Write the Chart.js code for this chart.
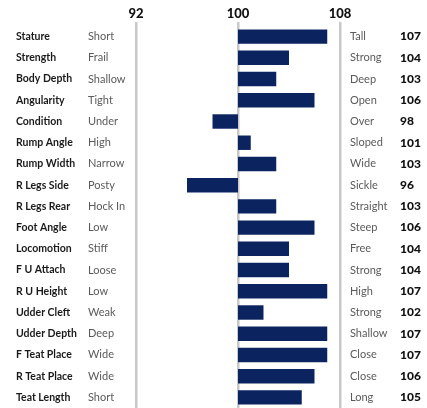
<!DOCTYPE html>
<html>
<head>
<meta charset="utf-8">
<script src="https://cdn.jsdelivr.net/npm/chart.js@4.4.1/dist/chart.umd.min.js"></script>
<style>
  html, body { margin: 0; padding: 0; background: #fff; }
  #wrap { width: 427px; height: 408px; position: relative; }
</style>
</head>
<body>
<div id="wrap"><canvas id="traitChart"></canvas></div>
<script>
// linear type traits, bars run from the 100 base
const traits = ['Stature', 'Strength', 'Body Depth', 'Angularity', 'Condition', 'Rump Angle',
    'Rump Width', 'R Legs Side', 'R Legs Rear', 'Foot Angle', 'Locomotion', 'F U Attach',
    'R U Height', 'Udder Cleft', 'Udder Depth', 'F Teat Place', 'R Teat Place', 'Teat Length'];
const lowLabels = ['Short', 'Frail', 'Shallow', 'Tight', 'Under', 'High', 'Narrow', 'Posty',
    'Hock In', 'Low', 'Stiff', 'Loose', 'Low', 'Weak', 'Deep', 'Wide', 'Wide', 'Short'];
const highLabels = ['Tall', 'Strong', 'Deep', 'Open', 'Over', 'Sloped', 'Wide', 'Sickle',
    'Straight', 'Steep', 'Free', 'Strong', 'High', 'Strong', 'Shallow', 'Close', 'Close', 'Long'];
const scores = [107, 104, 103, 106, 98, 101, 103, 96, 103, 106, 104, 104, 107, 102, 107, 107, 106, 105];
const baseScore = 100;
const tickValues = [92, 100, 108];

const FONT = 'Lato, "Open Sans", sans-serif';

// trait names and descriptors beside each row, scale numbers above the grid lines
const sideLabels = {
    id: 'sideLabels',
    afterDraw(chart) {
        const ctx = chart.ctx;
        const x = chart.scales.x;
        const y = chart.scales.y;
        ctx.save();
        ctx.textBaseline = 'alphabetic';
        ctx.textAlign = 'center';
        ctx.font = '900 13px ' + FONT;
        ctx.fillStyle = '#111';
        tickValues.forEach(v => ctx.fillText(String(v), x.getPixelForValue(v), 18));

        ctx.textBaseline = 'middle';
        ctx.textAlign = 'left';
        traits.forEach((name, i) => {
            const py = y.getPixelForValue(i);
            ctx.font = 'bold 10.5px ' + FONT;
            ctx.fillStyle = '#1a1a1a';
            ctx.fillText(name, 16, py);
            ctx.font = '11px ' + FONT;
            ctx.fillStyle = '#5a5a5a';
            ctx.fillText(lowLabels[i], 88, py);
            ctx.fillText(highLabels[i], 350, py);
            ctx.font = '900 12px ' + FONT;
            ctx.fillStyle = '#111';
            ctx.fillText(String(scores[i]), 400, py);
        });
        ctx.restore();
    }
};

new Chart(document.getElementById('traitChart'), {
    type: 'bar',
    data: {
        labels: traits,
        datasets: [{
            data: scores.map(v => [baseScore, v]),
            backgroundColor: '#0b2460',
            borderWidth: 0,
            categoryPercentage: 1,
            barPercentage: 0.68
        }]
    },
    options: {
        indexAxis: 'y',
        responsive: true,
        maintainAspectRatio: false,
        animation: false,
        layout: { padding: { left: 136, right: 87, top: 0, bottom: 0 } },
        plugins: {
            legend: { display: false },
            tooltip: { enabled: false }
        },
        scales: {
            x: {
                type: 'linear',
                position: 'top',
                min: 92,
                max: 108,
                afterBuildTicks: scale => {
                    scale.ticks = tickValues.map(v => ({ value: v }));
                },
                afterFit: scale => { scale.height = 26; },
                grid: { color: '#c8c8c8', lineWidth: 2.5, tickLength: 4 },
                border: { display: false },
                ticks: { display: false }
            },
            y: {
                display: false
            }
        }
    },
    plugins: [sideLabels]
});
</script>
</body>
</html>
